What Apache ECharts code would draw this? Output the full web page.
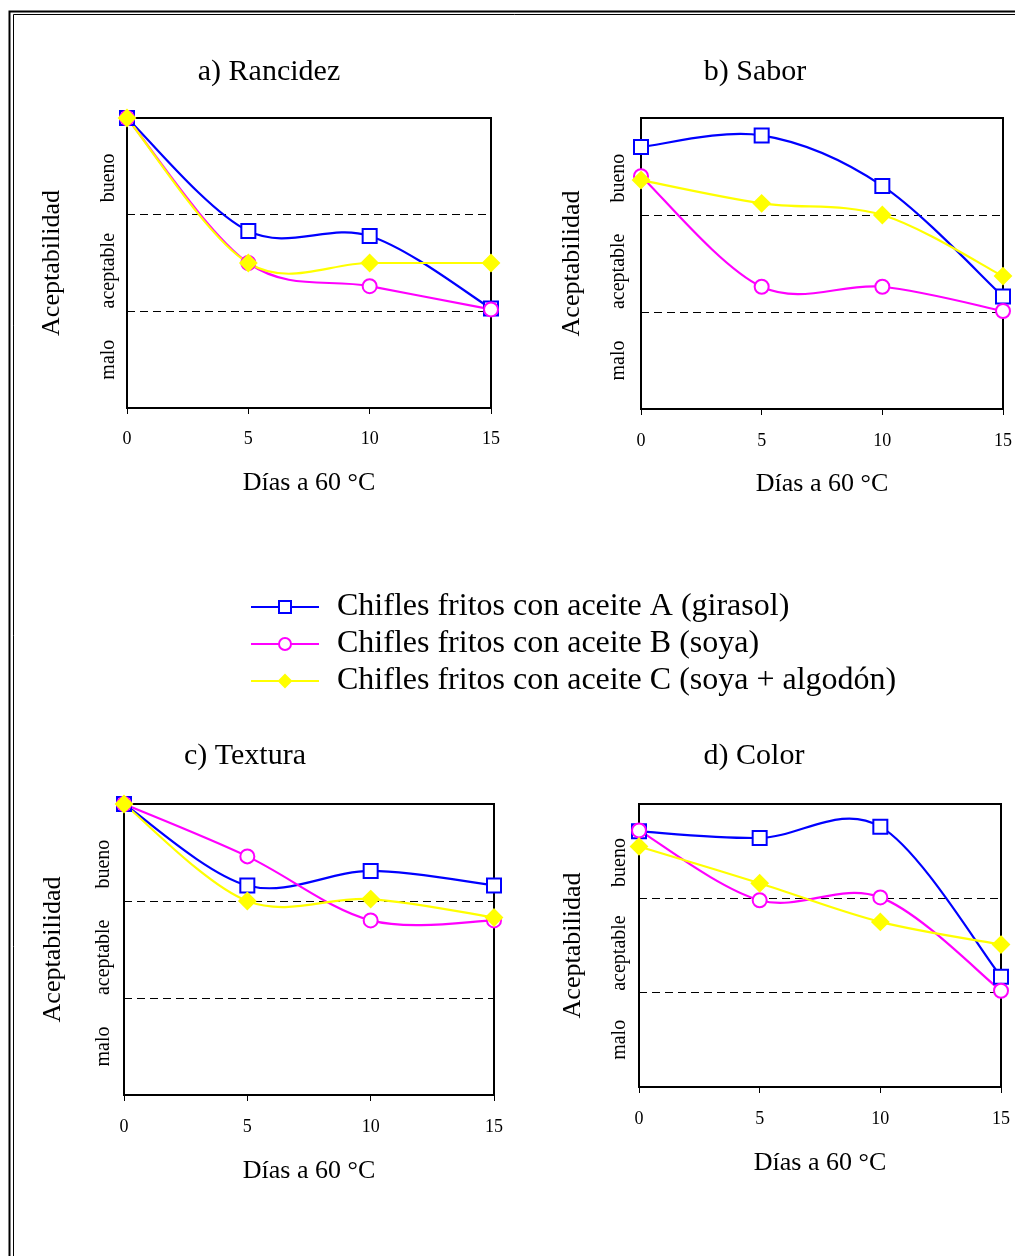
<!DOCTYPE html>
<html>
<head>
<meta charset="utf-8">
<script src="https://cdn.jsdelivr.net/npm/echarts@6/dist/echarts.min.js"></script>
<style>
html,body{margin:0;padding:0;background:#fff;}
#chart{width:1015px;height:1256px;}
</style>
</head>
<body>
<div id="chart"></div>
<script>
// ---- data ----
const days = [0, 5, 10, 15];
const seriesNames = [
  'Chifles fritos con aceite A (girasol)',
  'Chifles fritos con aceite B (soya)',
  'Chifles fritos con aceite C (soya + algodón)'
];
const panelTitles = ['a) Rancidez', 'b) Sabor', 'c) Textura', 'd) Color'];
const levelLabels = ['malo', 'aceptable', 'bueno'];
const levelPos = [0.5, 1.42, 2.38];
const xTicks = [0, 5, 10, 15];

const rancidezA = [3.00, 1.83, 1.78, 1.03];
const rancidezB = [3.00, 1.50, 1.26, 1.02];
const rancidezC = [3.00, 1.50, 1.50, 1.50];

const saborA = [2.70, 2.82, 2.30, 1.16];
const saborB = [2.40, 1.26, 1.26, 1.01];
const saborC = [2.36, 2.12, 2.00, 1.37];

const texturaA = [3.00, 2.16, 2.31, 2.16];
const texturaB = [3.00, 2.46, 1.80, 1.80];
const texturaC = [3.00, 2.00, 2.02, 1.83];

const colorA = [2.71, 2.64, 2.76, 1.17];
const colorB = [2.72, 1.98, 2.01, 1.02];
const colorC = [2.55, 2.16, 1.75, 1.51];

const panels = [
  [rancidezA, rancidezB, rancidezC],
  [saborA, saborB, saborC],
  [texturaA, texturaB, texturaC],
  [colorA, colorB, colorC]
];

// ---- layout / style ----
const FONT = '"Liberation Serif", "Times New Roman", serif';
const grids = [
  {left: 127, top: 118, width: 364, height: 290},
  {left: 641, top: 118, width: 366, height: 291},
  {left: 124, top: 804, width: 370, height: 291},
  {left: 639, top: 804, width: 362, height: 283}
];
const titlePos = [
  {x: 269, y: 57}, {x: 755, y: 57}, {x: 245, y: 741}, {x: 754, y: 741}
];
const yNameGap = [62, 56, 58, 53];
const yLabelMargin = [8, 12, 10, 9];
const xLabelMargin = [22, 23, 23, 23];
const xNameGap = [62, 62, 63, 63];

const colors = ['#0000FF', '#FF00FF', '#FFFF00'];
const symbols = ['emptyRect', 'emptyCircle', 'diamond'];
const symbolSizes = [14, 14, 16];

// Smoothed curve (Catmull-Rom style, like the original spreadsheet smoothing),
// drawn through the library's coordinate system.
function makeCurve(color) {
  return function (params, api) {
    const n = params.dataInsideLength;
    const i = params.dataIndexInside;
    if (i >= n - 1) return null;
    const P = k => api.coord([api.value(0, k), api.value(1, k)]);
    const p1 = P(i), p2 = P(i + 1);
    const p0 = i > 0 ? P(i - 1) : p1;
    const p3 = i + 2 < n ? P(i + 2) : p2;
    const c1 = [p1[0] + (p2[0] - p0[0]) / 6, p1[1] + (p2[1] - p0[1]) / 6];
    const c2 = [p2[0] - (p3[0] - p1[0]) / 6, p2[1] - (p3[1] - p1[1]) / 6];
    return {
      type: 'bezierCurve',
      shape: {x1: p1[0], y1: p1[1], x2: p2[0], y2: p2[1],
              cpx1: c1[0], cpy1: c1[1], cpx2: c2[0], cpy2: c2[1]},
      style: {stroke: color, lineWidth: 2.2, fill: null},
      silent: true
    };
  };
}

const option = {
  animation: false,
  backgroundColor: '#fff',
  title: panelTitles.map((t, i) => ({
    text: t,
    left: titlePos[i].x,
    top: titlePos[i].y,
    textAlign: 'center',
    padding: 0,
    textStyle: {fontFamily: FONT, fontSize: 30, fontWeight: 'normal', color: '#000'}
  })),
  legend: {
    data: seriesNames,
    orient: 'vertical',
    left: 250,
    top: 591,
    padding: 0,
    itemWidth: 68,
    itemHeight: 15,
    itemGap: 5,
    selectedMode: false,
    lineStyle: {opacity: 1, width: 2},
    textStyle: {fontFamily: FONT, fontSize: 32, color: '#000', padding: [0, 0, 0, 13]}
  },
  grid: grids.map(g => ({
    left: g.left, top: g.top, width: g.width, height: g.height,
    show: true, borderColor: '#000', borderWidth: 2, backgroundColor: 'transparent',
    containLabel: false
  })),
  xAxis: grids.map((g, i) => ({
    type: 'value', gridIndex: i, min: 0, max: 15, interval: 5,
    name: 'Días a 60 °C', nameLocation: 'middle', nameGap: xNameGap[i],
    nameTextStyle: {fontFamily: FONT, fontSize: 26, color: '#000'},
    axisLine: {show: true, lineStyle: {color: '#000', width: 2}},
    axisTick: {show: true, inside: false, length: 6, lineStyle: {color: '#000', width: 1}},
    axisLabel: {fontFamily: FONT, fontSize: 18, color: '#000', margin: xLabelMargin[i],
      formatter: v => xTicks.indexOf(v) >= 0 ? String(v) : ''},
    splitLine: {show: false}
  })),
  yAxis: grids.map((g, i) => ({
    type: 'value', gridIndex: i, min: 0, max: 3, interval: 1,
    name: 'Aceptabilidad', nameLocation: 'middle', nameGap: yNameGap[i], nameRotate: 90,
    nameTextStyle: {fontFamily: FONT, fontSize: 26, color: '#000'},
    axisLine: {show: true, lineStyle: {color: '#000', width: 2}},
    axisTick: {show: false},
    axisLabel: {
      show: true, rotate: 90, customValues: levelPos, margin: yLabelMargin[i],
      fontFamily: FONT, fontSize: 20, color: '#000',
      formatter: v => {
        const k = levelPos.findIndex(p => Math.abs(p - v) < 1e-6);
        return k >= 0 ? levelLabels[k] : '';
      }
    },
    splitLine: {show: true, showMinLine: false, showMaxLine: false,
      lineStyle: {color: '#000', width: 1, type: [8, 5]}}
  })),
  graphic: [
    {type: 'rect', shape: {x: 9.5, y: 11.5, width: 1300, height: 1400},
     style: {fill: 'none', stroke: '#000', lineWidth: 2}, silent: true},
    {type: 'rect', shape: {x: 13.5, y: 14.5, width: 1300, height: 1400},
     style: {fill: 'none', stroke: '#000', lineWidth: 1}, silent: true}
  ],
  series: []
};

// markers (line series, line itself hidden; also feed the legend)
panels.forEach((panel, p) => {
  panel.forEach((vals, s) => {
    option.series.push({
      type: 'line',
      name: seriesNames[s],
      xAxisIndex: p, yAxisIndex: p,
      data: days.map((d, k) => [d, vals[k]]),
      symbol: symbols[s],
      symbolSize: symbolSizes[s],
      showAllSymbol: true,
      clip: false,
      lineStyle: {color: colors[s], width: 2, opacity: 0},
      itemStyle: {color: colors[s], borderColor: colors[s], borderWidth: 2},
      emphasis: {disabled: true},
      z: 5 + s
    });
  });
});
// smoothed curves
panels.forEach((panel, p) => {
  panel.forEach((vals, s) => {
    option.series.push({
      type: 'custom',
      name: 'curve-' + p + '-' + s,
      coordinateSystem: 'cartesian2d',
      xAxisIndex: p, yAxisIndex: p,
      encode: {x: 0, y: 1},
      data: days.map((d, k) => [d, vals[k]]),
      renderItem: makeCurve(colors[s]),
      clip: false,
      silent: true,
      z: 2 + s
    });
  });
});

const chart = echarts.init(document.getElementById('chart'), null, {renderer: 'canvas'});
chart.setOption(option);
</script>
</body>
</html>
